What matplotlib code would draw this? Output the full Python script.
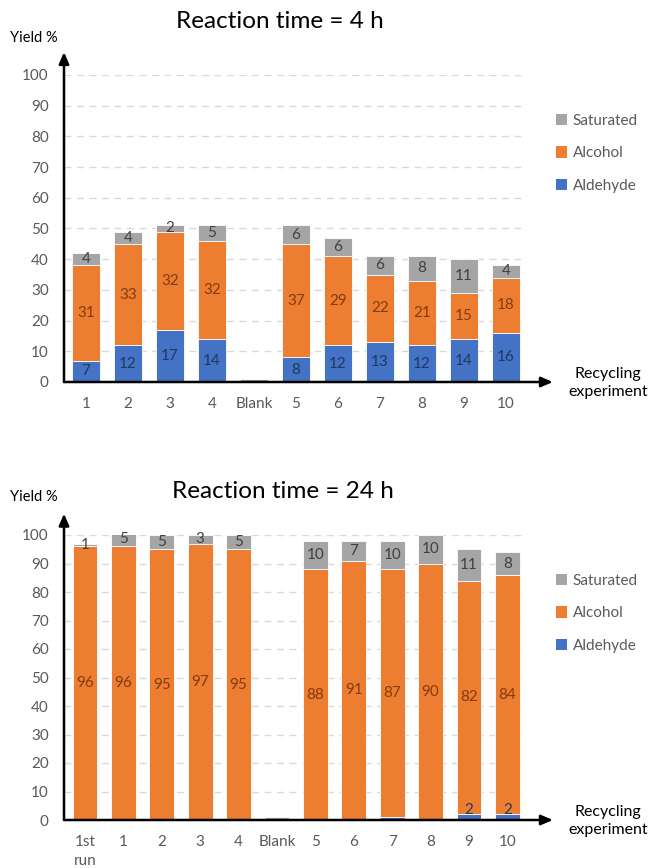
import matplotlib
matplotlib.use("Agg")
import matplotlib.pyplot as plt
from matplotlib.patches import Patch
import numpy as np

plt.rcParams['font.family'] = ['Lato', 'DejaVu Sans']

# ---- data: reaction time 4 h ----
cats_4h = ["1", "2", "3", "4", "Blank", "5", "6", "7", "8", "9", "10"]
aldehyde_4h = [7, 12, 17, 14, 0, 8, 12, 13, 12, 14, 16]
alcohol_4h = [31, 33, 32, 32, 0, 37, 29, 22, 21, 15, 18]
saturated_4h = [4, 4, 2, 5, 1, 6, 6, 6, 8, 11, 4]

# ---- data: reaction time 24 h ----
cats_24h = ["1st\nrun", "1", "2", "3", "4", "Blank", "5", "6", "7", "8", "9", "10"]
aldehyde_24h = [0, 0, 0, 0, 0, 0, 0, 0, 1, 0, 2, 2]
alcohol_24h = [96, 96, 95, 97, 95, 0, 88, 91, 87, 90, 82, 84]
saturated_24h = [1, 5, 5, 3, 5, 1, 10, 7, 10, 10, 11, 8]

series_names = ["Aldehyde", "Alcohol", "Saturated"]
colors = ["#4472C4", "#ED7D31", "#A5A5A5"]
label_colors = ["#1F3864", "#843C0C", "#404040"]
TICK_C = "#595959"

W, H = 649, 868
fig = plt.figure(figsize=(W / 100, H / 100), dpi=100)


def px_axes(left, right, y0, y100):
    return fig.add_axes([left / W, 1 - y0 / H, (right - left) / W, (y0 - y100) / H])


def draw_panel(ax, cats, series, xlim, width, title, title_xy, yield_y, rec_y, legend_y):
    x = np.arange(len(cats))
    bottom = np.zeros(len(cats))
    for vals, col, lcol, name in zip(series, colors, label_colors, series_names):
        vals = np.array(vals, dtype=float)
        ax.bar(x, vals, width, bottom=bottom, color=col, edgecolor="white",
               linewidth=0.6, zorder=3, label=name)
        for xi, v, b, c in zip(x, vals, bottom, cats):
            if v <= 0 or c == "Blank":
                continue
            if name == "Aldehyde" and v < 2:
                continue
            ypos = max(b + v / 2, 3.4)
            ax.text(xi, ypos, f"{int(v)}", ha="center", va="center",
                    fontsize=11, color=lcol, zorder=4)
        bottom = bottom + vals

    ax.set_xlim(*xlim)
    ax.set_ylim(0, 100)
    ax.set_yticks(np.arange(0, 101, 10))
    ax.set_xticks(x)
    ax.set_xticklabels(cats, va="top")
    for t in ax.get_xticklabels():
        t.set_linespacing(1.45)
    ax.tick_params(axis="both", length=0, labelsize=11, labelcolor=TICK_C)
    ax.tick_params(axis="y", pad=11)
    ax.tick_params(axis="x", pad=11)
    for s in ax.spines.values():
        s.set_visible(False)
    for yv in range(10, 101, 10):
        ax.axhline(yv, color="#D9D9D9", lw=1.0, ls=(0, (5, 4)), zorder=1)

    # axis arrows
    ax.annotate("", xy=(1.056, 0), xytext=(0, 0), xycoords="axes fraction",
                arrowprops=dict(arrowstyle="-|>,head_length=0.7,head_width=0.3",
                                lw=1.8, color="black", shrinkA=0, shrinkB=0),
                annotation_clip=False, zorder=5)
    ax.annotate("", xy=(0, 1.075), xytext=(0, 0), xycoords="axes fraction",
                arrowprops=dict(arrowstyle="-|>,head_length=0.7,head_width=0.3",
                                lw=1.8, color="black", shrinkA=0, shrinkB=0),
                annotation_clip=False, zorder=5)

    fig.text(title_xy[0] / W, 1 - title_xy[1] / H, title, ha="center", va="center",
             fontsize=17.5, color="black")
    fig.text(10 / W, 1 - yield_y / H, "Yield %", ha="left", va="center",
             fontsize=10.5, color="black")
    fig.text(608 / W, 1 - rec_y / H, "Recycling\nexperiment", ha="center",
             va="center", fontsize=11.5, color="black", linespacing=1.45)

    handles = [Patch(facecolor=c, edgecolor="none") for c in colors[::-1]]
    leg = fig.legend(handles, series_names[::-1], loc="upper left",
                     bbox_to_anchor=(556 / W, 1 - legend_y / H), frameon=False,
                     borderpad=0, borderaxespad=0,
                     handlelength=0.75, handleheight=0.75, handletextpad=0.35,
                     labelspacing=1.2, fontsize=11)
    for t in leg.get_texts():
        t.set_color(TICK_C)


ax1 = px_axes(64, 527, 382, 75)
draw_panel(ax1, cats_4h, [aldehyde_4h, alcohol_4h, saturated_4h],
           (-0.524, 10.5), 0.67, "Reaction time = 4 h", (280, 22), 38, 383, 114)

ax2 = px_axes(64, 527, 820, 535)
draw_panel(ax2, cats_24h, [aldehyde_24h, alcohol_24h, saturated_24h],
           (-0.547, 11.51), 0.65, "Reaction time = 24 h", (283, 491), 497, 821, 574)

fig.savefig("out.png", dpi=100)
